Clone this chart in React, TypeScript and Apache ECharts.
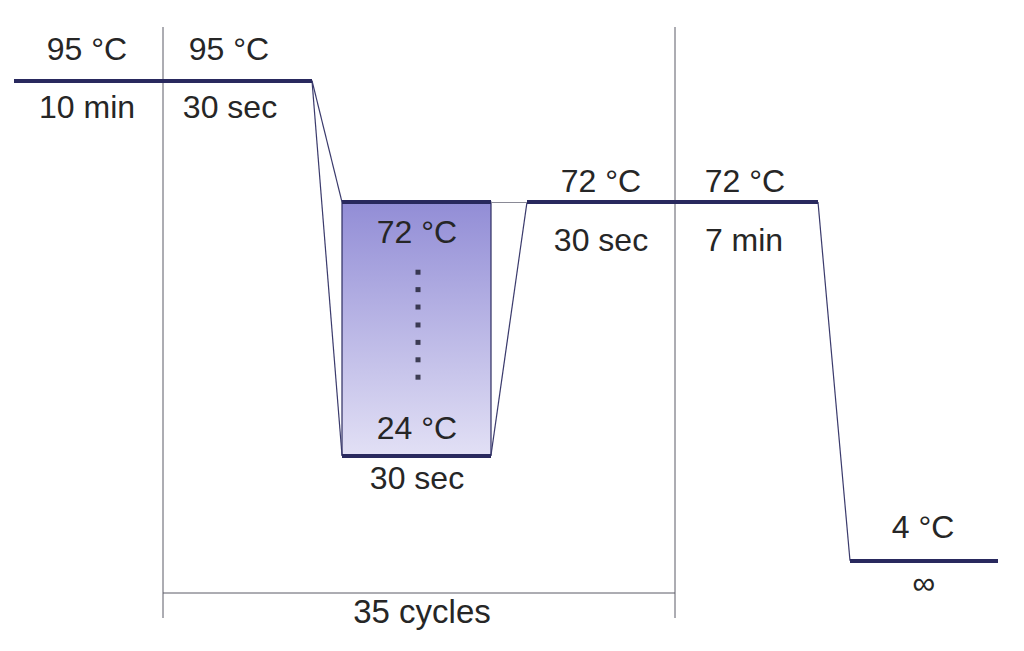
import React, { useEffect, useRef } from "react";
import * as echarts from "echarts";

// Schematic time positions (x) and temperatures (°C)
const holdStarts = [14, 342, 342, 527, 850];
const holdEnds = [312, 491, 491, 818, 998];
const holdTemps = [95, 72, 24, 72, 4];

const rampFrom: [number, number][] = [[312, 95], [312, 95], [491, 24], [818, 72]];
const rampTo: [number, number][] = [[342, 72], [342, 24], [527, 72], [850, 4]];

const linkFrom: [number, number] = [491, 72];
const linkTo: [number, number] = [527, 72];

const gradientBox = { x0: 342, x1: 491, tTop: 72, tBottom: 24 };
const dotX = 418;
const dotTemps = [58.7, 55.4, 52.1, 48.7, 45.4, 42.1, 38.8];

const cycleStart = 163;
const cycleEnd = 675;

// label text, anchor x, anchor temperature, vertical pixel offset from anchor
const labelTexts = ["95 °C", "10 min", "95 °C", "30 sec", "72 °C", "24 °C", "30 sec", "72 °C", "30 sec", "72 °C", "7 min", "4 °C", "∞"];
const labelX = [87, 87, 229, 230, 417, 417, 417, 601, 601, 745, 744, 923, 924];
const labelT = [95, 95, 95, 95, 72, 24, 24, 72, 72, 72, 72, 4, 4];
const labelDy = [-32, 26, -32, 26, 30, -27, 23, -21, 38, -21, 38, -34, 22];

const FONT = '"Liberation Sans", Arial, sans-serif';
const TEXT_COLOR = "#262626";
const NAVY = "#29295e";

export default function App() {
  const ref = useRef<HTMLDivElement>(null);

  useEffect(() => {
    if (!ref.current) return;
    const chart = echarts.init(ref.current, null, { renderer: "svg" });
    const option: any = {
      animation: false,
      backgroundColor: "#ffffff",
      grid: { left: 0, right: 0, top: 0, bottom: 0 },
      xAxis: { type: "value", min: 0, max: 1024, show: false },
      yAxis: { type: "value", min: -13.1, max: 110.3, show: false },
      series: [
        {
          type: "line",
          data: [],
          silent: true,
          markArea: {
            silent: true,
            itemStyle: {
              color: {
                type: "linear", x: 0, y: 0, x2: 0, y2: 1,
                colorStops: [
                  { offset: 0, color: "#928dd6" },
                  { offset: 1, color: "#e2e0f5" },
                ],
              },
              borderColor: "#2e2e62",
              borderWidth: 1.2,
            },
            data: [[
              { coord: [gradientBox.x0, gradientBox.tTop] },
              { coord: [gradientBox.x1, gradientBox.tBottom] },
            ]],
          },
        },
        {
          type: "lines",
          coordinateSystem: "cartesian2d",
          silent: true,
          lineStyle: { color: "#3a3a6c", width: 1.2, opacity: 1 },
          data: rampFrom.map((f, i) => ({ coords: [f, rampTo[i]] })),
        },
        {
          type: "lines",
          coordinateSystem: "cartesian2d",
          silent: true,
          lineStyle: { color: "#8a8a96", width: 1.2, opacity: 1 },
          data: [{ coords: [linkFrom, linkTo] }],
        },
        {
          type: "lines",
          coordinateSystem: "cartesian2d",
          silent: true,
          lineStyle: { color: NAVY, width: 4, opacity: 1 },
          data: holdTemps.map((t, i) => ({ coords: [[holdStarts[i], t], [holdEnds[i], t]] })),
        },
        {
          type: "scatter",
          silent: true,
          symbol: "rect",
          symbolSize: 5,
          itemStyle: { color: "#1b1b2e" },
          data: dotTemps.map((t) => [dotX, t]),
        },
      ],
    };
    chart.setOption(option);

    const px = (x: number, t: number) => chart.convertToPixel({ gridIndex: 0 }, [x, t]) as number[];
    const xs = px(cycleStart, 0)[0];
    const xe = px(cycleEnd, 0)[0];
    const graphics: any[] = [
      { type: "line", z: 1, shape: { x1: xs, y1: 27, x2: xs, y2: 618 }, style: { stroke: "#5a5a66", lineWidth: 1 } },
      { type: "line", z: 1, shape: { x1: xe, y1: 27, x2: xe, y2: 618 }, style: { stroke: "#5a5a66", lineWidth: 1 } },
      { type: "line", z: 1, shape: { x1: xs, y1: 593, x2: xe, y2: 593 }, style: { stroke: "#5a5a66", lineWidth: 1 } },
      {
        type: "text", z: 100, x: (xs + xe) / 2 + 3, y: 611,
        style: { text: "35 cycles", font: `33px ${FONT}`, fill: TEXT_COLOR, textAlign: "center", textVerticalAlign: "middle" },
      },
    ];
    labelTexts.forEach((txt, i) => {
      const p = px(labelX[i], labelT[i]);
      graphics.push({
        type: "text",
        z: 100,
        x: p[0],
        y: p[1] + labelDy[i],
        style: { text: txt, font: `32px ${FONT}`, fill: TEXT_COLOR, textAlign: "center", textVerticalAlign: "middle" },
      });
    });
    chart.setOption({ graphic: graphics });

    return () => chart.dispose();
  }, []);

  return (
    <div
      ref={ref}
      style={{ position: "fixed", left: 0, top: 0, width: 1024, height: 651, background: "#fff" }}
    />
  );
}
